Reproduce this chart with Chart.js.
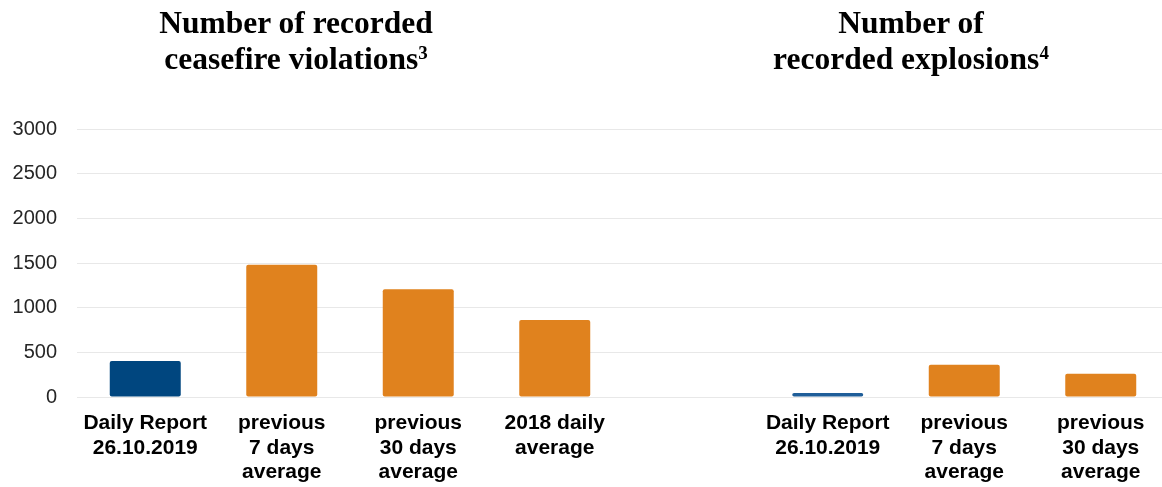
<!DOCTYPE html>
<html>
<head>
<meta charset="utf-8">
<script src="https://cdn.jsdelivr.net/npm/chart.js@4"></script>
<style>
  html, body { margin:0; padding:0; background:#fff; overflow:hidden; width:1162px; height:487px; }
  #wrap { position:absolute; left:0; top:0; width:1169px; height:487px; }
  .title { position:absolute; font-family:"Liberation Serif","Times New Roman",serif; font-weight:bold; font-size:31.5px; line-height:36px; color:#000; text-align:center; white-space:nowrap; }
  .title sup { font-size:19px; vertical-align:top; position:relative; top:-6px; }
</style>
</head>
<body>
<div id="wrap"><canvas id="c"></canvas></div>
<div class="title" style="left:96px; top:5px; width:400px;">Number of recorded<br>ceasefire violations<sup>3</sup></div>
<div class="title" style="left:711px; top:5px; width:400px;">Number of<br>recorded explosions<sup>4</sup></div>
<script>
const categories = [
  ["Daily Report", "26.10.2019"],
  ["previous", "7 days", "average"],
  ["previous", "30 days", "average"],
  ["2018 daily", "average"],
  "",
  ["Daily Report", "26.10.2019"],
  ["previous", "7 days", "average"],
  ["previous", "30 days", "average"]
];
const values = [403, 1480, 1207, 863, null, 45, 362, 261];
const yTicks = [0, 500, 1000, 1500, 2000, 2500, 3000];

const barColors = ["#00467f", "#e0821e", "#e0821e", "#e0821e", "#e0821e", "#1f5e99", "#e0821e", "#e0821e"];

new Chart(document.getElementById('c'), {
  type: 'bar',
  data: {
    labels: categories,
    datasets: [{
      data: values,
      backgroundColor: barColors,
      borderRadius: 2,
      borderSkipped: false,
      categoryPercentage: 1,
      barPercentage: 0.52
    }]
  },
  options: {
    responsive: true,
    maintainAspectRatio: false,
    animation: false,
    layout: { padding: { top: 129, right: 0, left: 0, bottom: 0 } },
    plugins: { legend: { display: false }, tooltip: { enabled: false } },
    scales: {
      x: {
        grid: { display: false, drawTicks: false },
        border: { display: false },
        ticks: {
          color: '#000',
          font: { family: 'Liberation Sans, Arial, sans-serif', size: 21, weight: 'bold', lineHeight: 1.17 },
          padding: 14,
          maxRotation: 0,
          autoSkip: false
        },
        afterFit: (s) => { s.height = 90; }
      },
      y: {
        min: 0, max: 3000,
        afterBuildTicks: (s) => { s.ticks = yTicks.map(v => ({ value: v })); },
        grid: { color: '#e8e8e8', drawTicks: false, lineWidth: 1 },
        border: { display: false },
        ticks: {
          color: '#262626',
          font: { family: 'Liberation Sans, Arial, sans-serif', size: 20 },
          padding: 20,
          callback: (v) => String(v)
        },
        afterFit: (s) => { s.width = 77; }
      }
    }
  }
});
</script>
</body>
</html>
